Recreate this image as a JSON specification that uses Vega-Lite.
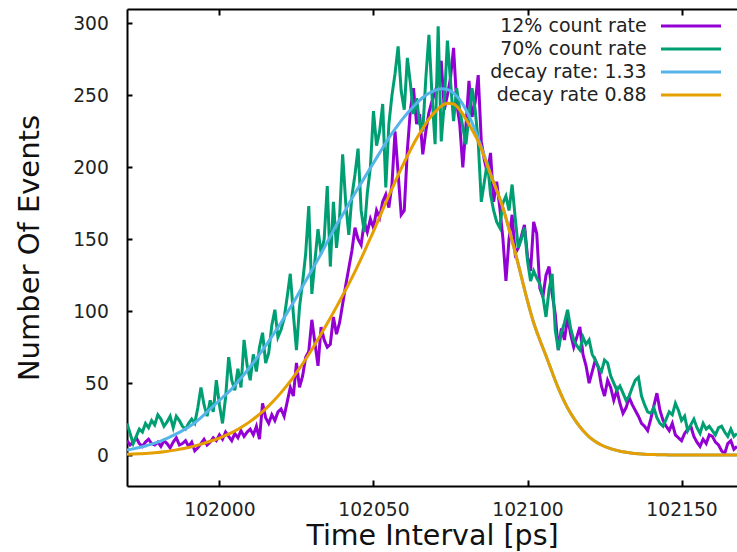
{
"$schema": "https://vega.github.io/schema/vega-lite/v6.json",
"width": 610, "height": 477, "autosize": "none",
"padding": {"left": 127, "top": 9, "right": 0, "bottom": 66},
"background": "white",
"config": {"view": {"stroke": null}, "font": "DejaVu Sans"},
"datasets": {
"hist": [
{"t":101970,"p":10,"g":22},{"t":101971,"p":7,"g":15},{"t":101972,"p":9,"g":8},{"t":101973,"p":12,"g":13},{"t":101974,"p":8,"g":18},{"t":101975,"p":6,"g":16},{"t":101976,"p":9,"g":22},{"t":101977,"p":11,"g":19},{"t":101978,"p":8,"g":24},{"t":101979,"p":7,"g":21},
{"t":101980,"p":9,"g":28},{"t":101981,"p":6,"g":25},{"t":101982,"p":10,"g":20},{"t":101983,"p":8,"g":23},{"t":101984,"p":5,"g":27},{"t":101985,"p":9,"g":19},{"t":101986,"p":12,"g":27},{"t":101987,"p":7,"g":24},{"t":101988,"p":8,"g":20},{"t":101989,"p":10,"g":18},
{"t":101990,"p":6,"g":22},{"t":101991,"p":9,"g":25},{"t":101992,"p":3,"g":22},{"t":101993,"p":5,"g":33},{"t":101994,"p":8,"g":47},{"t":101995,"p":11,"g":35},{"t":101996,"p":7,"g":27},{"t":101997,"p":9,"g":38},{"t":101998,"p":12,"g":30},{"t":101999,"p":10,"g":52},
{"t":102000,"p":14,"g":35},{"t":102001,"p":11,"g":22},{"t":102002,"p":16,"g":40},{"t":102003,"p":13,"g":68},{"t":102004,"p":10,"g":52},{"t":102005,"p":15,"g":45},{"t":102006,"p":12,"g":60},{"t":102007,"p":17,"g":47},{"t":102008,"p":13,"g":80},{"t":102009,"p":16,"g":62},
{"t":102010,"p":18,"g":52},{"t":102011,"p":14,"g":70},{"t":102012,"p":20,"g":58},{"t":102013,"p":11,"g":75},{"t":102014,"p":36,"g":85},{"t":102015,"p":26,"g":64},{"t":102016,"p":22,"g":71},{"t":102017,"p":28,"g":90},{"t":102018,"p":24,"g":101},{"t":102019,"p":30,"g":82},
{"t":102020,"p":32,"g":87},{"t":102021,"p":27,"g":95},{"t":102022,"p":37,"g":110},{"t":102023,"p":47,"g":126},{"t":102024,"p":41,"g":98},{"t":102025,"p":64,"g":73},{"t":102026,"p":47,"g":103},{"t":102027,"p":55,"g":120},{"t":102028,"p":68,"g":140},{"t":102029,"p":72,"g":173},
{"t":102030,"p":94,"g":112},{"t":102031,"p":78,"g":135},{"t":102032,"p":62,"g":157},{"t":102033,"p":89,"g":140},{"t":102034,"p":80,"g":150},{"t":102035,"p":75,"g":187},{"t":102036,"p":77,"g":131},{"t":102037,"p":96,"g":176},{"t":102038,"p":84,"g":144},{"t":102039,"p":92,"g":165},
{"t":102040,"p":105,"g":209},{"t":102041,"p":118,"g":175},{"t":102042,"p":130,"g":153},{"t":102043,"p":142,"g":180},{"t":102044,"p":158,"g":195},{"t":102045,"p":150,"g":213},{"t":102046,"p":146,"g":170},{"t":102047,"p":162,"g":155},{"t":102048,"p":155,"g":182},{"t":102049,"p":164,"g":200},
{"t":102050,"p":158,"g":239},{"t":102051,"p":170,"g":215},{"t":102052,"p":165,"g":225},{"t":102053,"p":176,"g":244},{"t":102054,"p":181,"g":186},{"t":102055,"p":172,"g":230},{"t":102056,"p":188,"g":250},{"t":102057,"p":225,"g":265},{"t":102058,"p":196,"g":284},{"t":102059,"p":167,"g":253},
{"t":102060,"p":170,"g":240},{"t":102061,"p":212,"g":276},{"t":102062,"p":240,"g":258},{"t":102063,"p":255,"g":237},{"t":102064,"p":230,"g":248},{"t":102065,"p":237,"g":230},{"t":102066,"p":209,"g":225},{"t":102067,"p":225,"g":262},{"t":102068,"p":238,"g":292},{"t":102069,"p":246,"g":250},
{"t":102070,"p":252,"g":216},{"t":102071,"p":260,"g":298},{"t":102072,"p":274,"g":218},{"t":102073,"p":240,"g":245},{"t":102074,"p":250,"g":288},{"t":102075,"p":262,"g":260},{"t":102076,"p":283,"g":232},{"t":102077,"p":245,"g":255},{"t":102078,"p":230,"g":240},{"t":102079,"p":200,"g":228},
{"t":102080,"p":228,"g":216},{"t":102081,"p":260,"g":235},{"t":102082,"p":235,"g":255},{"t":102083,"p":245,"g":240},{"t":102084,"p":264,"g":218},{"t":102085,"p":218,"g":176},{"t":102086,"p":205,"g":190},{"t":102087,"p":196,"g":204},{"t":102088,"p":210,"g":181},{"t":102089,"p":176,"g":170},
{"t":102090,"p":190,"g":162},{"t":102091,"p":172,"g":158},{"t":102092,"p":151,"g":175},{"t":102093,"p":121,"g":180},{"t":102094,"p":150,"g":170},{"t":102095,"p":167,"g":188},{"t":102096,"p":140,"g":165},{"t":102097,"p":144,"g":144},{"t":102098,"p":152,"g":150},{"t":102099,"p":160,"g":158},
{"t":102100,"p":138,"g":135},{"t":102101,"p":128,"g":121},{"t":102102,"p":162,"g":128},{"t":102103,"p":154,"g":123},{"t":102104,"p":116,"g":119},{"t":102105,"p":110,"g":110},{"t":102106,"p":125,"g":96},{"t":102107,"p":131,"g":115},{"t":102108,"p":112,"g":126},{"t":102109,"p":98,"g":87},
{"t":102110,"p":73,"g":73},{"t":102111,"p":88,"g":85},{"t":102112,"p":80,"g":92},{"t":102113,"p":96,"g":101},{"t":102114,"p":84,"g":88},{"t":102115,"p":75,"g":80},{"t":102116,"p":82,"g":76},{"t":102117,"p":89,"g":73},{"t":102118,"p":70,"g":82},{"t":102119,"p":62,"g":77},
{"t":102120,"p":50,"g":80},{"t":102121,"p":58,"g":70},{"t":102122,"p":66,"g":66},{"t":102123,"p":61,"g":61},{"t":102124,"p":48,"g":58},{"t":102125,"p":41,"g":66},{"t":102126,"p":52,"g":64},{"t":102127,"p":47,"g":55},{"t":102128,"p":38,"g":50},{"t":102129,"p":45,"g":45},
{"t":102130,"p":36,"g":48},{"t":102131,"p":29,"g":43},{"t":102132,"p":33,"g":38},{"t":102133,"p":40,"g":41},{"t":102134,"p":35,"g":47},{"t":102135,"p":31,"g":52},{"t":102136,"p":27,"g":54},{"t":102137,"p":22,"g":41},{"t":102138,"p":20,"g":35},{"t":102139,"p":17,"g":30},
{"t":102140,"p":25,"g":29},{"t":102141,"p":34,"g":33},{"t":102142,"p":43,"g":26},{"t":102143,"p":31,"g":22},{"t":102144,"p":24,"g":20},{"t":102145,"p":20,"g":25},{"t":102146,"p":17,"g":30},{"t":102147,"p":22,"g":28},{"t":102148,"p":14,"g":36},{"t":102149,"p":12,"g":31},
{"t":102150,"p":10,"g":24},{"t":102151,"p":15,"g":27},{"t":102152,"p":18,"g":17},{"t":102153,"p":20,"g":21},{"t":102154,"p":13,"g":25},{"t":102155,"p":9,"g":19},{"t":102156,"p":6,"g":15},{"t":102157,"p":11,"g":22},{"t":102158,"p":8,"g":18},{"t":102159,"p":14,"g":20},
{"t":102160,"p":13,"g":17},{"t":102161,"p":9,"g":14},{"t":102162,"p":7,"g":19},{"t":102163,"p":3,"g":20},{"t":102164,"p":1,"g":16},{"t":102165,"p":8,"g":13},{"t":102166,"p":10,"g":18},{"t":102167,"p":4,"g":13},{"t":102168,"p":6,"g":15}
],
"fit": [
{"t":101970,"b":3.5,"o":0.5},{"t":101972,"b":4.3,"o":0.7},{"t":101974,"b":5.2,"o":0.9},{"t":101976,"b":6.3,"o":1.1},{"t":101978,"b":7.6,"o":1.4},
{"t":101980,"b":9.0,"o":1.8},{"t":101982,"b":10.7,"o":2.3},{"t":101984,"b":12.6,"o":2.9},{"t":101986,"b":14.7,"o":3.6},{"t":101988,"b":17,"o":4.4},
{"t":101990,"b":19.5,"o":5.3},{"t":101992,"b":22.5,"o":6.4},{"t":101994,"b":26,"o":7.6},{"t":101996,"b":30,"o":8.9},{"t":101998,"b":34,"o":10.3},
{"t":102000,"b":38,"o":11.8},{"t":102002,"b":42,"o":13.6},{"t":102004,"b":46,"o":15.6},{"t":102006,"b":51,"o":17.9},{"t":102008,"b":56,"o":20.5},
{"t":102010,"b":61.5,"o":23.4},{"t":102012,"b":67,"o":26.6},{"t":102014,"b":73,"o":30.2},{"t":102016,"b":79,"o":34.2},{"t":102018,"b":85.5,"o":38.6},
{"t":102020,"b":92,"o":43.4},{"t":102022,"b":99,"o":48.6},{"t":102024,"b":106,"o":54.2},{"t":102026,"b":113.5,"o":60.2},{"t":102028,"b":121,"o":66.6},
{"t":102030,"b":128.5,"o":73.4},{"t":102032,"b":136,"o":80.5},{"t":102034,"b":144,"o":87.8},{"t":102036,"b":152,"o":95.3},{"t":102038,"b":160,"o":103},
{"t":102040,"b":167,"o":111},{"t":102042,"b":174.5,"o":119},{"t":102044,"b":182,"o":127.5},{"t":102046,"b":189,"o":136.5},{"t":102048,"b":196,"o":146},
{"t":102050,"b":203,"o":155.5},{"t":102052,"b":210,"o":165.5},{"t":102054,"b":217,"o":175.5},{"t":102056,"b":223.5,"o":185},{"t":102058,"b":229.5,"o":194.5},
{"t":102060,"b":235,"o":203.5},{"t":102062,"b":240,"o":212},{"t":102064,"b":244.5,"o":220},{"t":102066,"b":248.5,"o":227},{"t":102068,"b":251.5,"o":233.5},
{"t":102070,"b":253.5,"o":238.5},{"t":102072,"b":254.5,"o":242.5},{"t":102074,"b":254,"o":244.5},{"t":102076,"b":251.5,"o":244},{"t":102078,"b":247,"o":240},
{"t":102080,"b":240,"o":233.5},{"t":102082,"b":231,"o":226},{"t":102084,"b":220,"o":218},{"t":102086,"b":208,"o":207},{"t":102088,"b":195.5,"o":195},
{"t":102090,"b":184,"o":184},{"t":102092,"b":172,"o":172},{"t":102094,"b":157,"o":157},{"t":102096,"b":141,"o":141},{"t":102098,"b":124,"o":124},
{"t":102100,"b":107,"o":107},{"t":102102,"b":92,"o":92},{"t":102104,"b":80,"o":80},{"t":102106,"b":69,"o":69},{"t":102108,"b":57.5,"o":57.5},
{"t":102110,"b":46.5,"o":46.5},{"t":102112,"b":37,"o":37},{"t":102114,"b":29,"o":29},{"t":102116,"b":22.5,"o":22.5},{"t":102118,"b":17,"o":17},
{"t":102120,"b":12.7,"o":12.7},{"t":102122,"b":9.5,"o":9.5},{"t":102124,"b":7,"o":7},{"t":102126,"b":5.2,"o":5.2},{"t":102128,"b":3.8,"o":3.8},
{"t":102130,"b":2.7,"o":2.7},{"t":102132,"b":1.9,"o":1.9},{"t":102134,"b":1.3,"o":1.3},{"t":102136,"b":0.9,"o":0.9},{"t":102138,"b":0.6,"o":0.6},
{"t":102140,"b":0.4,"o":0.4},{"t":102142,"b":0.3,"o":0.3},{"t":102144,"b":0.2,"o":0.2},{"t":102146,"b":0.1,"o":0.1},{"t":102148,"b":0.1,"o":0.1},
{"t":102150,"b":0,"o":0},{"t":102152,"b":0,"o":0},{"t":102154,"b":0,"o":0},{"t":102156,"b":0,"o":0},{"t":102158,"b":0,"o":0},
{"t":102160,"b":0,"o":0},{"t":102162,"b":0,"o":0},{"t":102164,"b":0,"o":0},{"t":102166,"b":0,"o":0},{"t":102168,"b":0,"o":0}
]
},
"layer": [
{
"data": {"name": "hist"},
"transform": [{"fold": ["p", "g"], "as": ["s", "v"]}],
"mark": {"type": "line", "interpolate": "linear", "strokeWidth": 3, "clip": true},
"encoding": {
"x": {"field": "t", "type": "quantitative",
"scale": {"domain": [101970, 102168], "nice": false, "zero": false},
"axis": {"orient": "bottom", "values": [102000, 102050, 102100, 102150], "format": "d", "grid": false,
"domain": true, "domainColor": "black", "domainWidth": 2,
"ticks": true, "tickSize": -6, "tickWidth": 2, "tickColor": "black",
"labelFont": "DejaVu Sans", "labelFontSize": 18.7, "labelColor": "#222", "labelPadding": 20,
"title": "Time Interval [ps]", "titleFont": "DejaVu Sans", "titleFontSize": 28.5, "titleFontWeight": "normal", "titleColor": "#111", "titlePadding": 3}},
"y": {"field": "v", "type": "quantitative",
"scale": {"domain": [-21.5, 310], "nice": false, "zero": false},
"axis": {"orient": "left", "values": [0, 50, 100, 150, 200, 250, 300], "grid": false,
"domain": true, "domainColor": "black", "domainWidth": 2,
"ticks": true, "tickSize": -5, "tickWidth": 2, "tickColor": "black",
"labelFont": "DejaVu Sans", "labelFontSize": 18.7, "labelColor": "#222", "labelPadding": 23.7,
"title": "Number Of Events", "titleFont": "DejaVu Sans", "titleFontSize": 29, "titleFontWeight": "normal", "titleColor": "#111", "titlePadding": 28}},
"color": {"field": "s", "type": "nominal",
"scale": {"domain": ["p", "g", "b", "o"], "range": ["#9400d3", "#009e73", "#56b4e9", "#e69f00"]},
"legend": {"orient": "none", "legendX": 554.5, "legendY": 7.5, "title": null, "padding": 0,
"symbolType": "M-5,0H5", "symbolSize": 144, "symbolStrokeWidth": 3, "symbolFillColor": "transparent",
"labelAlign": "right", "labelOffset": -53.8, "labelFont": "DejaVu Sans", "labelFontSize": 19, "labelColor": "#222", "labelLimit": 0,
"rowPadding": 3,
"labelExpr": "datum.label == 'p' ? '12% count rate' : datum.label == 'g' ? '70% count rate' : datum.label == 'b' ? 'decay rate: 1.33' : 'decay rate 0.88'"}}
}
},
{
"data": {"name": "fit"},
"transform": [{"fold": ["b", "o"], "as": ["s", "v"]}],
"mark": {"type": "line", "interpolate": "monotone", "strokeWidth": 3, "clip": true},
"encoding": {
"x": {"field": "t", "type": "quantitative",
"axis": {"orient": "top", "values": [102000, 102050, 102100, 102150], "grid": false, "labels": false, "title": null,
"domain": true, "domainColor": "black", "domainWidth": 2,
"ticks": true, "tickSize": -6, "tickWidth": 2, "tickColor": "black"}},
"y": {"field": "v", "type": "quantitative", "axis": null},
"color": {"field": "s", "type": "nominal"}
}
}
],
"resolve": {"axis": {"x": "independent", "y": "independent"}}
}
